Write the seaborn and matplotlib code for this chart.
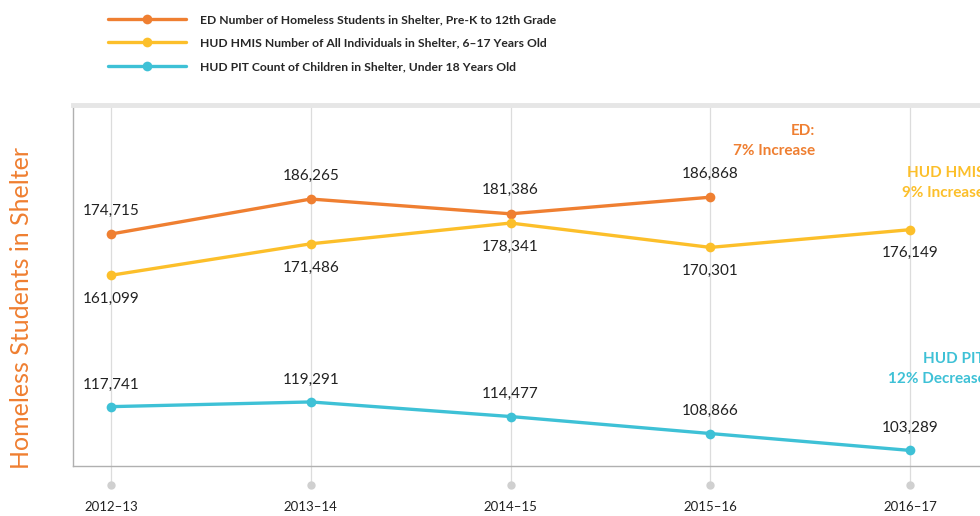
import numpy as np
import pandas as pd
import matplotlib.pyplot as plt
import seaborn as sns

years = ["2012\u201313", "2013\u201314", "2014\u201315", "2015\u201316", "2016\u201317"]
ed_vals = [174715, 186265, 181386, 186868]
hmis_vals = [161099, 171486, 178341, 170301, 176149]
pit_vals = [117741, 119291, 114477, 108866, 103289]

ed_name = "ED Number of Homeless Students in Shelter, Pre-K to 12th Grade"
hmis_name = "HUD HMIS Number of All Individuals in Shelter, 6\u201317 Years Old"
pit_name = "HUD PIT Count of Children in Shelter, Under 18 Years Old"

orange = "#ef7f31"
yellow = "#fcbf2a"
cyan = "#3ec1d6"

rows = []
for name, vals in [(ed_name, ed_vals), (hmis_name, hmis_vals), (pit_name, pit_vals)]:
    for i, v in enumerate(vals):
        rows.append({"x": i, "value": v, "series": name})
df = pd.DataFrame(rows)

sns.set_style("white")
plt.rcParams["font.family"] = ["Lato", "DejaVu Sans"]

fig = plt.figure(figsize=(9.8, 5.16), dpi=100)
W, H = 980, 516
ax = fig.add_axes([73 / W, (516 - 466) / H, (1000 - 73) / W, (466 - 105) / H])

ylo, yhi = 98150, 217300
ax.set_ylim(ylo, yhi)
ax.set_xlim(-0.19, 4.45)

# vertical guide lines with dots below the axis
grid_bottom = 91900
for i in range(len(years)):
    ax.plot([i, i], [grid_bottom, yhi], color="#dcdcdc", lw=0.9, clip_on=False, zorder=0)
    ax.plot([i], [grid_bottom], marker="o", ms=5, color="#d0d0d0", clip_on=False, zorder=0)

sns.lineplot(data=df, x="x", y="value", hue="series",
             palette=[orange, yellow, cyan], marker="o", markersize=7,
             markeredgewidth=0, linewidth=2.4, ax=ax, zorder=3)

# value labels
def label(vals, off):
    for i, v in enumerate(vals):
        ax.annotate(f"{v:,}", (i, v), xytext=(0, off), textcoords="offset points",
                    ha="center", va="center", fontsize=11, color="#222222")

label(ed_vals, 17)
label(hmis_vals, -17)
label(pit_vals, 16)

# change annotations (the right-hand ones run off the edge, as in the original)
notes = [
    (815, 131, "right", "ED:", orange),
    (815, 151, "right", "7% Increase", orange),
    (907, 173, "left", "HUD HMIS", yellow),
    (902, 193, "left", "9% Increase", yellow),
    (923, 359, "left", "HUD PIT", cyan),
    (888, 379, "left", "12% Decrease", cyan),
]
for x, y, ha, txt, c in notes:
    fig.text(x / W, (516 - y) / H, txt, ha=ha, va="center",
             fontsize=11, fontweight="bold", color=c)

# axes styling
ax.set_xticks(range(len(years)))
ax.set_xticklabels(years, fontsize=9.5, color="#222222")
ax.tick_params(axis="x", length=0, pad=25)
ax.set_yticks([])
ax.set_xlabel("")
ax.set_ylabel("")
for s in ["left", "bottom"]:
    ax.spines[s].set_color("#b0b0b0")
    ax.spines[s].set_linewidth(1.0)
ax.spines["right"].set_visible(False)
ax.spines["top"].set_color("#e6e6e6")
ax.spines["top"].set_linewidth(3.5)

fig.text(22 / W, (516 - 308) / H, "Homeless Students in Shelter", rotation=90,
         ha="center", va="center", fontsize=18, color=orange)

# legend
handles, labels = ax.get_legend_handles_labels()
ax.legend(handles, labels, loc="upper left", bbox_to_anchor=(97 / W, 1.0 - 3 / H),
          bbox_transform=fig.transFigure, frameon=False, handlelength=6.5,
          handletextpad=1.1, labelspacing=1.05, prop={"weight": "bold", "size": 8.7})

fig.savefig("out.png", dpi=100)
